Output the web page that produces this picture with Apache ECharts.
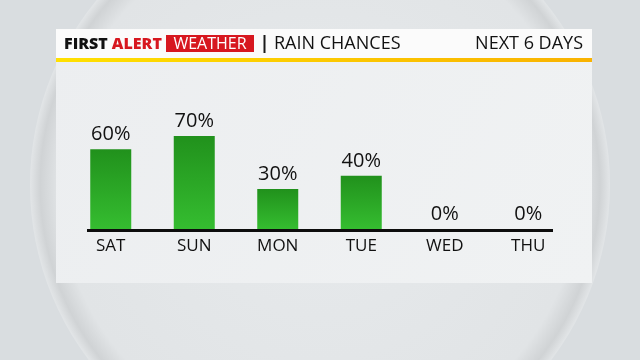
<!DOCTYPE html>
<html><head><meta charset="utf-8">
<script src="https://cdn.jsdelivr.net/npm/echarts@6/dist/echarts.min.js"></script>
<style>html,body{margin:0;padding:0;background:#d9dde0}#c{width:640px;height:360px}</style>
</head><body><div id="c"></div>
<script>
const categories = ['SAT','SUN','MON','TUE','WED','THU'];
const rainChance = [60,70,30,40,0,0];
const titleLeft1 = 'FIRST';
const titleLeft2 = 'ALERT';
const titleBox = 'WEATHER';
const titleMain = 'RAIN CHANCES';
const titleRight = 'NEXT 6 DAYS';

const chart = echarts.init(document.getElementById('c'), null, {renderer:'canvas'});
const F = '"Open Sans", sans-serif';
chart.setOption({
  backgroundColor: '#d9dde0',
  animation: false,
  graphic: [
    {type:'circle', z:-10, shape:{cx:320, cy:185, r:290},
      style:{fill:new echarts.graphic.RadialGradient(0.5,0.5,0.5,[
        {offset:0,color:'#e7eaec'},{offset:0.9,color:'#e1e4e6'},{offset:0.965,color:'#d0d3d5'},{offset:1,color:'#e2e5e7'}])}},
    {type:'rect', z:-5, shape:{x:56, y:29, width:536, height:254},
      style:{fill:new echarts.graphic.LinearGradient(0,0,1,1,[{offset:0,color:'#eceef0'},{offset:1,color:'#f0f2f3'}])}},
    {type:'rect', z:-4, shape:{x:56, y:29, width:536, height:29}, style:{fill:'#fbfbfb'}},
    {type:'rect', z:-4, shape:{x:56, y:58, width:536, height:4},
      style:{fill:new echarts.graphic.LinearGradient(0,0,1,0,[{offset:0,color:'#ffe000'},{offset:1,color:'#f9b200'}])}},
    {type:'rect', z:-3, shape:{x:166, y:35, width:88, height:17}, style:{fill:'#d7171f'}},
    {type:'rect', z:-3, shape:{x:263.5, y:35, width:2, height:18}, style:{fill:'#1a1a1a'}},
    {type:'text', z:1, x:64, y:44, style:{text:'{a|'+titleLeft1+' }{b|'+titleLeft2+'}', verticalAlign:'middle',
      rich:{a:{fill:'#111', fontFamily:F, fontWeight:800, fontSize:16},
            b:{fill:'#d7171f', fontFamily:F, fontWeight:800, fontSize:16}}}},
    {type:'text', z:1, x:210, y:44, style:{text:titleBox, fill:'#fff', fontFamily:F, fontSize:16, align:'center', verticalAlign:'middle'}},
    {type:'text', z:1, x:274, y:44, style:{text:titleMain, fill:'#111', fontFamily:F, fontSize:18, verticalAlign:'middle'}},
    {type:'text', z:1, x:583, y:44, style:{text:titleRight, fill:'#111', fontFamily:F, fontSize:18, align:'right', verticalAlign:'middle'}},
    {type:'rect', z:5, shape:{x:87, y:229, width:466, height:3}, style:{fill:'#0d0d0d'}}
  ],
  grid: {left:69, right:70, top:96, bottom:131},
  xAxis: {type:'category', data:categories, axisLine:{show:false}, axisTick:{show:false},
    axisLabel:{color:'#111', fontFamily:F, fontSize:17, margin:9}},
  yAxis: {type:'value', min:0, max:100, show:false, splitLine:{show:false}},
  series: [{type:'bar', data:rainChance, barWidth:41,
    itemStyle:{color:new echarts.graphic.LinearGradient(0,0,0,1,[{offset:0,color:'#21911c'},{offset:1,color:'#35bd30'}])},
    label:{show:true, position:'top', distance:5, formatter:'{c}%', color:'#111', fontFamily:F, fontSize:20}}]
});
</script></body></html>
